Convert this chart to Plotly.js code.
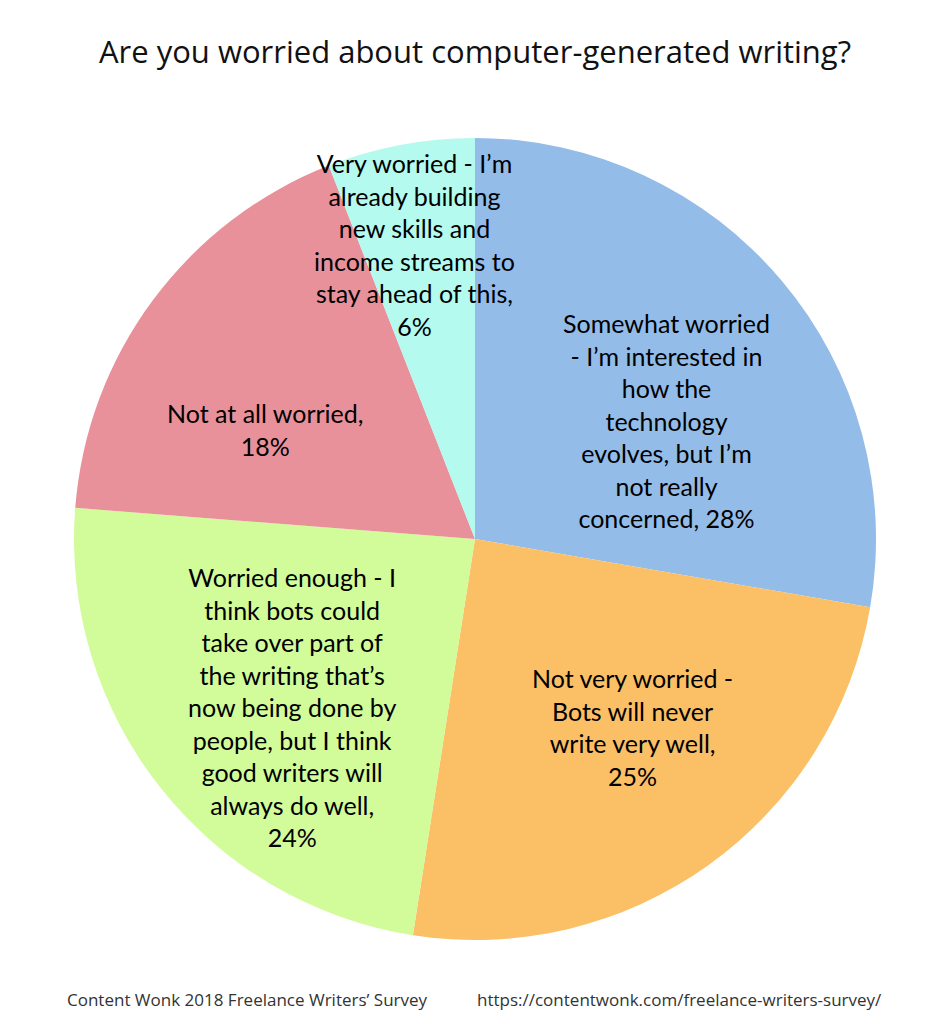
<!DOCTYPE html>
<html>
<head>
<meta charset="utf-8">
<script src="https://cdn.plot.ly/plotly-3.0.1.min.js"></script>
<style>html,body{margin:0;padding:0;background:#fff;}#chart{width:950px;height:1024px;}</style>
</head>
<body>
<div id="chart"></div>
<script>
const categories = [
  "Somewhat worried - I’m interested in how the technology evolves, but I’m not really concerned",
  "Not very worried - Bots will never write very well",
  "Worried enough - I think bots could take over part of the writing that’s now being done by people, but I think good writers will always do well",
  "Not at all worried",
  "Very worried - I’m already building new skills and income streams to stay ahead of this"
];
const values = [28, 25, 24, 18, 6];
const colors = ["#94BCE8", "#FBBF66", "#D2FB9A", "#E8919B", "#B4FAEE"];
const wrappedLabels = [
  "Somewhat worried<br>- I’m interested in<br>how the<br>technology<br>evolves, but I’m<br>not really<br>concerned,",
  "Not very worried -<br>Bots will never<br>write very well,<br>",
  "Worried enough - I<br>think bots could<br>take over part of<br>the writing that’s<br>now being done by<br>people, but I think<br>good writers will<br>always do well,<br>",
  "Not at all worried,<br>",
  "Very worried - I’m<br>already building<br>new skills and<br>income streams to<br>stay ahead of this,<br>"
];
const labelPos = [
  [0.739, 0.648],
  [0.696, 0.266],
  [0.272, 0.291],
  [0.238, 0.636],
  [0.425, 0.867]
];
const footerLeft = "Content Wonk 2018 Freelance Writers’ Survey";
const footerRight = "https://contentwonk.com/freelance-writers-survey/";

const labelFont = {family: "Lato, 'Open Sans', sans-serif", size: 25, color: "#000"};

const annotations = categories.map((c, i) => ({
  xref: "paper", yref: "paper",
  x: labelPos[i][0], y: labelPos[i][1],
  xanchor: "center", yanchor: "middle",
  text: wrappedLabels[i] + (wrappedLabels[i].endsWith("<br>") ? "" : " ") + values[i] + "%",
  showarrow: false, align: "center", font: labelFont
}));
annotations.push({
  xref: "paper", yref: "paper", x: -0.011, y: -0.074, xanchor: "left", yanchor: "middle",
  text: footerLeft, showarrow: false, font: {family: "'Open Sans', sans-serif", size: 17, color: "#333"}
});
annotations.push({
  xref: "paper", yref: "paper", x: 0.5, y: -0.074, xanchor: "left", yanchor: "middle",
  text: footerRight, showarrow: false, font: {family: "'Open Sans', sans-serif", size: 17, color: "#333"}
});

const data = [{
  type: "pie",
  labels: categories,
  values: values,
  sort: false,
  direction: "clockwise",
  rotation: 0,
  marker: {colors: colors, line: {width: 0}},
  textinfo: "none",
  hoverinfo: "label+value",
  showlegend: false
}];

const layout = {
  width: 950, height: 1024,
  margin: {l: 74, r: 74, t: 138, b: 84},
  paper_bgcolor: "#fff",
  title: {
    text: "Are you worried about computer-generated writing?",
    font: {family: "'Open Sans', sans-serif", size: 31, color: "#111"},
    x: 0.5, xref: "paper", xanchor: "center",
    y: 1 - 52/1024, yref: "container", yanchor: "middle"
  },
  annotations: annotations
};

Plotly.newPlot("chart", data, layout, {displayModeBar: false, staticPlot: true});
</script>
</body>
</html>
